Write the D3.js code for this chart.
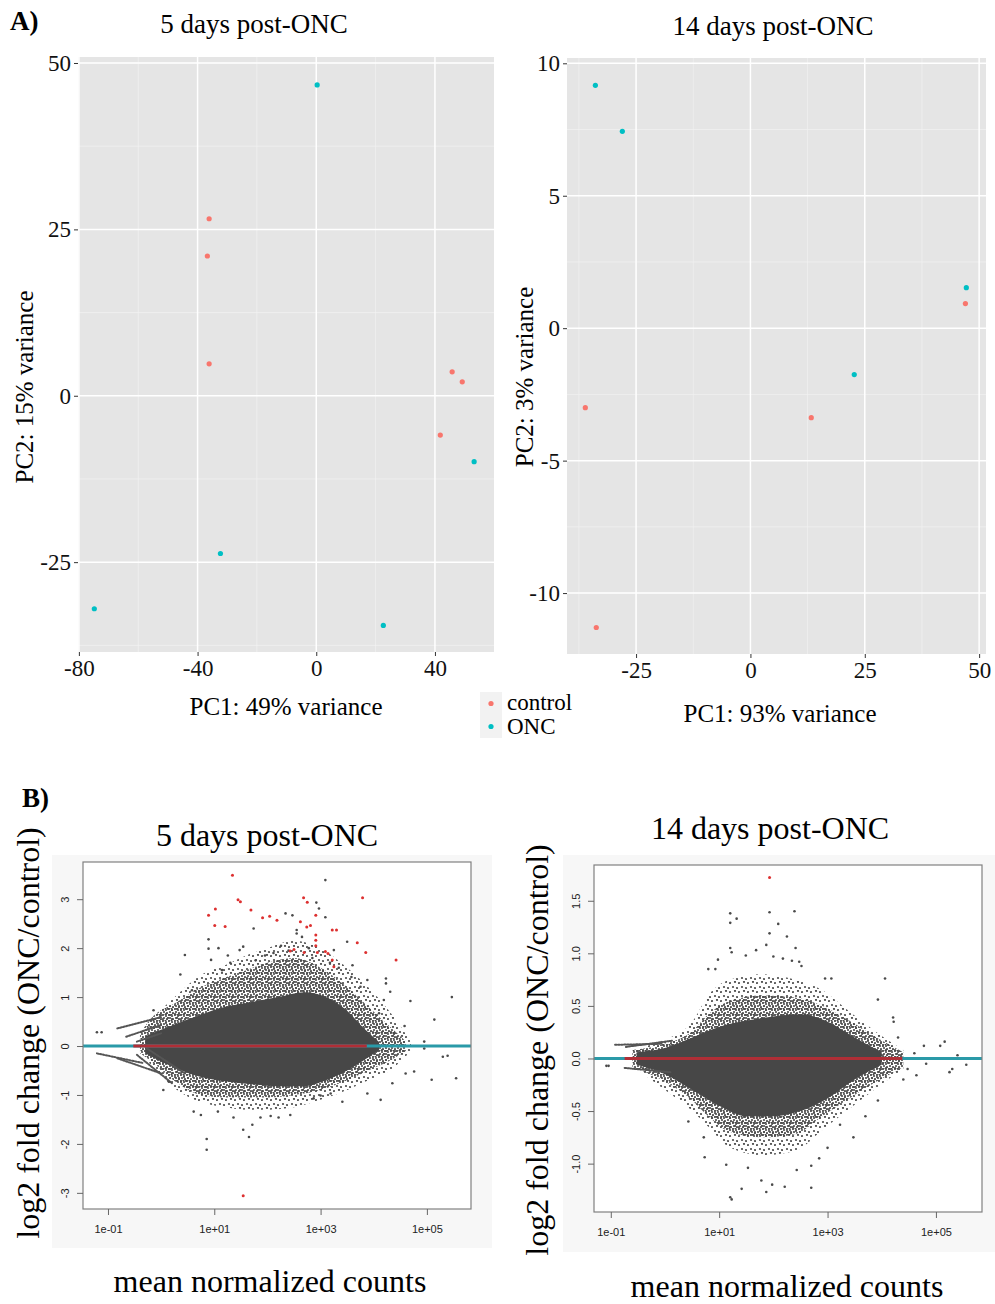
<!DOCTYPE html>
<html>
<head>
<meta charset="utf-8">
<script src="https://cdn.jsdelivr.net/npm/d3@7"></script>
<style>
  body { margin: 0; background: #fff; }
  svg text { font-family: "Liberation Serif", "Times New Roman", serif; }
  .ma-axis text { font-family: "Liberation Sans", Arial, sans-serif; }
</style>
</head>
<body>
<svg id="fig" width="995" height="1304"></svg>
<script>
// ---- A) PCA, values ----
const groups = ["control", "ONC"];
const groupColors = ["#F8766D", "#00BFC4"];

const pca5Control = [[-36.1, 26.6], [-36.7, 21.0], [-36.1, 4.8], [45.8, 3.6], [49.2, 2.1], [41.8, -5.9]];
const pca5Onc = [[0.3, 46.7], [53.2, -9.9], [-32.3, -23.7], [-74.8, -32.0], [22.6, -34.5]];
const pca14Control = [[47.0, 0.93], [-36.1, -3.0], [13.3, -3.38], [-33.7, -11.3]];
const pca14Onc = [[-33.9, 9.17], [-28.0, 7.43], [47.2, 1.53], [22.7, -1.75]];

const pca5XTicks = [-80, -40, 0, 40];
const pca5XMinor = [-60, -20, 20];
const pca5YTicks = [-25, 0, 25, 50];
const pca5YMinor = [-37.5, -12.5, 12.5, 37.5];
const pca14XTicks = [-25, 0, 25, 50];
const pca14XMinor = [-37.5, -12.5, 12.5, 37.5];
const pca14YTicks = [-10, -5, 0, 5, 10];
const pca14YMinor = [-7.5, -2.5, 2.5, 7.5];

// ---- B) MA plots: mean normalized counts vs log2 fold change ----
const maXTicks = [0.1, 10, 1000, 100000];
const maXTickLabels = ["1e-01", "1e+01", "1e+03", "1e+05"];
const ma5YTicks = [-3, -2, -1, 0, 1, 2, 3];
const ma14YTicks = [-1.0, -0.5, 0.0, 0.5, 1.0, 1.5];

// dense part of the cloud (envelopes: solid core, speckled fringe, sparse halo)
const ma5CoreCounts = [0.5, 1.6, 5, 16, 50, 160, 500, 1260, 3160, 6300, 12600];
const ma5CoreUpper = [0.2, 0.42, 0.62, 0.8, 0.9, 1.0, 1.1, 1.0, 0.72, 0.38, 0.08];
const ma5CoreLower = [-0.15, -0.42, -0.62, -0.72, -0.78, -0.82, -0.82, -0.7, -0.5, -0.3, -0.08];
const ma5FringeCounts = [0.4, 0.63, 2, 5.6, 16, 40, 100, 316, 1000, 3160, 7900, 20000, 40000];
const ma5FringeUpper = [0.25, 0.55, 0.9, 1.2, 1.4, 1.55, 1.7, 1.8, 1.6, 1.2, 0.8, 0.4, 0.1];
const ma5FringeLower = [-0.15, -0.3, -0.75, -1.0, -1.05, -1.05, -1.05, -1.0, -0.9, -0.7, -0.5, -0.3, -0.1];
const ma5HaloCounts = [0.6, 2, 5.6, 16, 40, 100, 316, 1000, 3160, 7900, 20000, 50000];
const ma5HaloUpper = [0.5, 1.05, 1.45, 1.65, 1.85, 2.0, 2.15, 2.0, 1.6, 1.2, 0.7, 0.1];
const ma5HaloLower = [-0.35, -0.9, -1.15, -1.25, -1.3, -1.3, -1.25, -1.1, -0.9, -0.7, -0.5, -0.1];

const ma14CoreCounts = [0.3, 1, 3.2, 10, 32, 100, 316, 1000, 3160, 10000];
const ma14CoreUpper = [0.06, 0.1, 0.2, 0.3, 0.36, 0.4, 0.42, 0.35, 0.2, 0.06];
const ma14CoreLower = [-0.06, -0.15, -0.3, -0.45, -0.55, -0.55, -0.5, -0.38, -0.2, -0.06];
const ma14FringeCounts = [0.25, 1, 3.2, 6.3, 16, 63, 250, 800, 2500, 8000, 25000];
const ma14FringeUpper = [0.08, 0.14, 0.26, 0.42, 0.55, 0.6, 0.58, 0.5, 0.36, 0.2, 0.06];
const ma14FringeLower = [-0.08, -0.22, -0.4, -0.55, -0.7, -0.75, -0.72, -0.55, -0.38, -0.22, -0.08];
const ma14HaloCounts = [0.3, 1, 3.2, 6.3, 16, 63, 250, 800, 2500, 8000, 25000];
const ma14HaloUpper = [0.1, 0.18, 0.35, 0.6, 0.75, 0.8, 0.75, 0.65, 0.45, 0.25, 0.08];
const ma14HaloLower = [-0.1, -0.3, -0.5, -0.65, -0.85, -0.92, -0.88, -0.68, -0.48, -0.28, -0.1];

// low-count streaks [count0, lfc0, count1, lfc1]
const ma5Rays = [
  [0.15, 0.36, 1.0, 0.59], [0.22, 0.19, 1.0, 0.43], [0.35, 0.09, 1.0, 0.26],
  [0.062, -0.15, 0.47, -0.35], [0.15, -0.25, 1.0, -0.56], [0.35, -0.18, 1.6, -0.76],
  [0.54, -0.05, 2.8, -0.56]
];
const ma14Rays = [[0.19, 0.11, 1.4, 0.17], [0.12, 0.13, 0.9, 0.14], [0.18, -0.09, 1.26, -0.13]];

// sparse genes outside the dense cloud
const ma5Gray = [
  [2.8, 1.86], [2.3, 1.46], [7.8, 2.18], [7.8, 1.99], [8.7, 1.76], [30, 1.96], [35, 2.03], [55, 2.4],
  [219, 2.71], [295, 2.67], [355, 2.37], [355, 2.3], [447, 2.23], [832, 2.93], [1230, 3.39], [1230, 2.63],
  [933, 2.81], [1778, 1.96], [3162, 2.13], [3981, 1.65], [3802, 1.41], [5623, 1.21], [7586, 1.35],
  [16982, 1.28], [16982, 1.38], [12589, 0.67], [15488, 0.94], [20417, 1.11], [48978, 0.92],
  [138038, 0.54], [295121, 1.0], [38019, 0.41], [23988, 0.26], [89125, 0.09], [0.062, 0.28],
  [0.076, 0.28], [0.72, 0.73], [3.8, 1.14], [14, 1.55], [20, 1.7], [60, 1.75], [90, 1.85],
  [130, 1.9], [180, 2.05], [250, 1.95], [600, 2.0], [700, 1.8], [1500, 1.7], [2200, 1.6], [12, 2.0],
  [18, 1.85],
  [4.1, -1.34], [5.6, -1.41], [11.7, -1.34], [23, -1.46], [7.2, -1.9], [7.2, -2.12], [35, -1.71],
  [45, -1.86], [52, -1.61], [74, -1.46], [115, -1.43], [162, -1.46], [269, -1.41], [2570, -1.14],
  [7586, -0.97], [57544, -0.52], [123027, -0.69], [354813, -0.66], [199526, -0.22], [245471, -0.2],
  [89125, -0.05], [1.1, -0.9], [1.4, -0.73], [741, -1.07], [1000, -1.01], [1549, -0.97],
  [13490, -1.1], [22387, -0.76], [39811, -0.56]
];
const ma5Red = [
  [22, 3.49], [7.8, 2.67], [10.5, 2.8], [10.2, 2.46], [16, 2.44], [28, 2.99], [31, 2.95], [49, 2.78],
  [81, 2.62], [110, 2.65], [151, 2.57], [479, 3.03], [562, 2.94], [813, 2.67], [417, 2.54], [550, 2.43],
  [646, 2.46], [269, 1.94], [316, 1.97], [490, 1.91], [813, 2.27], [813, 2.16], [813, 2.05], [871, 1.91],
  [1230, 1.93], [1380, 1.89], [1660, 2.37], [1995, 2.37], [1660, 1.76], [1778, 1.62], [6166, 3.03],
  [4898, 2.11], [7079, 1.91], [26303, 1.76], [35, -3.06]
];
const ma14Gray = [
  [16, 1.38], [16, 1.29], [21, 1.33], [85, 1.39], [245, 1.40], [123, 1.28], [85, 1.19], [178, 1.16],
  [74, 1.08], [257, 1.05], [16, 1.05], [17, 1.01], [9.5, 0.94], [31, 0.98], [48, 1.03], [100, 0.97],
  [150, 0.95], [220, 0.93], [300, 0.92], [330, 0.88], [6.3, 0.85], [8.5, 0.85], [11500, 0.76],
  [1175, 0.76], [900, 0.76], [8500, 0.56], [16200, 0.39], [16600, 0.35], [145000, 0.16],
  [120000, 0.12], [40000, 0.05], [60000, 0.12], [250000, 0.03], [20000, 0.2],
  [16, -1.32], [17, -1.34], [26, -1.24], [74, -1.27], [95, -1.2], [162, -1.22], [500, -1.23],
  [60, -1.16], [270, -1.06], [500, -1.02], [34, -1.04], [13.5, -1.01], [5.4, -0.94], [5.2, -0.75],
  [2.7, -0.60], [1700, -0.63], [8500, -0.40], [178000, -0.13], [200000, -0.1], [363000, -0.06],
  [66000, -0.05], [43600, -0.16], [30000, -0.1], [0.083, -0.07], [0.091, -0.07], [25000, -0.2],
  [5000, -0.55], [3000, -0.75], [700, -0.95], [1000, -0.85]
];
const ma14Red = [[85, 1.72]];

const svg = d3.select("#fig");
const defs = svg.append("defs");

// speckle textures for the outer parts of the gene clouds
function addSpecklePattern(id, size, dots) {
  const p = defs.append("pattern").attr("id", id)
    .attr("patternUnits", "userSpaceOnUse").attr("width", size).attr("height", size);
  dots.forEach(d => p.append("circle").attr("cx", d[0]).attr("cy", d[1]).attr("r", 1.1).attr("fill", "#4a4a4a"));
}
addSpecklePattern("speckDense", 6, [[1, 1], [4, 2], [2, 4], [5, 5], [3.5, 0.2]]);
addSpecklePattern("speckSparse", 9, [[1, 2], [6, 1], [4, 6], [8, 7]]);

function drawPca(cfg) {
  const x = d3.scaleLinear().domain(cfg.xDomain).range(cfg.xRange);
  const y = d3.scaleLinear().domain(cfg.yDomain).range(cfg.yRange);
  const g = svg.append("g");

  g.append("rect")
    .attr("x", cfg.xRange[0]).attr("y", cfg.yRange[1])
    .attr("width", cfg.xRange[1] - cfg.xRange[0])
    .attr("height", cfg.yRange[0] - cfg.yRange[1])
    .attr("fill", "#e5e5e5");

  cfg.xMinor.forEach(v => g.append("line")
    .attr("x1", x(v)).attr("x2", x(v)).attr("y1", cfg.yRange[1]).attr("y2", cfg.yRange[0])
    .attr("stroke", "#f2f2f2").attr("stroke-width", 0.7));
  cfg.yMinor.forEach(v => g.append("line")
    .attr("y1", y(v)).attr("y2", y(v)).attr("x1", cfg.xRange[0]).attr("x2", cfg.xRange[1])
    .attr("stroke", "#f2f2f2").attr("stroke-width", 0.7));
  cfg.xTicks.forEach(v => g.append("line")
    .attr("x1", x(v)).attr("x2", x(v)).attr("y1", cfg.yRange[1]).attr("y2", cfg.yRange[0])
    .attr("stroke", "#fff").attr("stroke-width", 1.5));
  cfg.yTicks.forEach(v => g.append("line")
    .attr("y1", y(v)).attr("y2", y(v)).attr("x1", cfg.xRange[0]).attr("x2", cfg.xRange[1])
    .attr("stroke", "#fff").attr("stroke-width", 1.5));

  const xAxis = g.append("g")
    .attr("transform", `translate(0,${cfg.yRange[0]})`)
    .call(d3.axisBottom(x).tickValues(cfg.xTicks).tickSize(4).tickPadding(4).tickFormat(d => String(d)));
  const yAxis = g.append("g")
    .attr("transform", `translate(${cfg.xRange[0]},0)`)
    .call(d3.axisLeft(y).tickValues(cfg.yTicks).tickSize(4).tickPadding(3).tickFormat(d => String(d)));
  [xAxis, yAxis].forEach(a => {
    a.select(".domain").remove();
    a.selectAll(".tick line").attr("stroke", "#333");
    a.selectAll("text").attr("font-size", 23).attr("fill", "#111")
      .style("font-family", "'Liberation Serif', serif");
  });

  const series = [cfg.control, cfg.onc];
  series.forEach((pts, i) => {
    g.selectAll(null).data(pts).enter().append("circle")
      .attr("cx", d => x(d[0])).attr("cy", d => y(d[1]))
      .attr("r", 2.6).attr("fill", groupColors[i]);
  });

  g.append("text").attr("x", cfg.titleX).attr("y", cfg.titleY)
    .attr("text-anchor", "middle").attr("font-size", 27).text(cfg.title);
  g.append("text").attr("x", cfg.xLabelX).attr("y", cfg.xLabelY)
    .attr("text-anchor", "middle").attr("font-size", 25).text(cfg.xLabel);
  g.append("text")
    .attr("transform", `translate(${cfg.yLabelX},${cfg.yLabelY}) rotate(-90)`)
    .attr("text-anchor", "middle").attr("font-size", 25).text(cfg.yLabel);
}

function drawMa(cfg, id) {
  const x = d3.scaleLog().domain(cfg.xDomain).range(cfg.xRange);
  const y = d3.scaleLinear().domain(cfg.yDomain).range(cfg.yRange);
  const g = svg.append("g");

  g.append("rect")
    .attr("x", cfg.outer[0]).attr("y", cfg.outer[1])
    .attr("width", cfg.outer[2]).attr("height", cfg.outer[3])
    .attr("fill", "#f7f7f7");
  g.append("rect")
    .attr("x", cfg.xRange[0]).attr("y", cfg.yRange[1])
    .attr("width", cfg.xRange[1] - cfg.xRange[0])
    .attr("height", cfg.yRange[0] - cfg.yRange[1])
    .attr("fill", "#fff");

  g.append("clipPath").attr("id", id).append("rect")
    .attr("x", cfg.xRange[0]).attr("y", cfg.yRange[1])
    .attr("width", cfg.xRange[1] - cfg.xRange[0])
    .attr("height", cfg.yRange[0] - cfg.yRange[1]);
  const plot = g.append("g").attr("clip-path", `url(#${id})`);

  const area = d3.area()
    .x(d => x(d.c)).y0(d => y(d.lo)).y1(d => y(d.hi))
    .curve(d3.curveMonotoneX);
  const band = (counts, lower, upper) => counts.map((c, i) => ({ c, lo: lower[i], hi: upper[i] }));

  plot.append("path").datum(band(cfg.haloCounts, cfg.haloLower, cfg.haloUpper))
    .attr("d", area).attr("fill", "url(#speckSparse)");
  plot.append("path").datum(band(cfg.fringeCounts, cfg.fringeLower, cfg.fringeUpper))
    .attr("d", area).attr("fill", "url(#speckDense)");
  plot.append("path").datum(band(cfg.coreCounts, cfg.coreLower, cfg.coreUpper))
    .attr("d", area).attr("fill", "#474747");

  plot.selectAll(null).data(cfg.rays).enter().append("line")
    .attr("x1", d => x(d[0])).attr("y1", d => y(d[1]))
    .attr("x2", d => x(d[2])).attr("y2", d => y(d[3]))
    .attr("stroke", "#555").attr("stroke-width", 2)
    .attr("stroke-linecap", "round").attr("stroke-dasharray", "1.5 1.5");

  plot.selectAll(null).data(cfg.gray).enter().append("circle")
    .attr("cx", d => x(d[0])).attr("cy", d => y(d[1]))
    .attr("r", 1.3).attr("fill", "#4a4a4a");

  plot.append("line")
    .attr("x1", cfg.xRange[0]).attr("x2", cfg.xRange[1])
    .attr("y1", y(0)).attr("y2", y(0))
    .attr("stroke", "#2a9aa8").attr("stroke-width", 3.2);
  plot.append("line")
    .attr("x1", x(cfg.redLine[0])).attr("x2", x(cfg.redLine[1]))
    .attr("y1", y(0)).attr("y2", y(0))
    .attr("stroke", "#b02e36").attr("stroke-width", 3);

  plot.selectAll(null).data(cfg.red).enter().append("circle")
    .attr("cx", d => x(d[0])).attr("cy", d => y(d[1]))
    .attr("r", 1.5).attr("fill", "#dd3030");

  g.append("rect")
    .attr("x", cfg.xRange[0]).attr("y", cfg.yRange[1])
    .attr("width", cfg.xRange[1] - cfg.xRange[0])
    .attr("height", cfg.yRange[0] - cfg.yRange[1])
    .attr("fill", "none").attr("stroke", "#808080").attr("stroke-width", 1.2);

  const xAxis = g.append("g").attr("class", "ma-axis")
    .attr("transform", `translate(0,${cfg.yRange[0]})`)
    .call(d3.axisBottom(x).tickValues(maXTicks).tickSize(6).tickPadding(10)
      .tickFormat((d, i) => maXTickLabels[i]));
  const yAxis = g.append("g").attr("class", "ma-axis")
    .attr("transform", `translate(${cfg.xRange[0]},0)`)
    .call(d3.axisLeft(y).tickValues(cfg.yTicks).tickSize(6).tickFormat(cfg.yFormat));
  [xAxis, yAxis].forEach(a => {
    a.select(".domain").remove();
    a.selectAll(".tick line").attr("stroke", "#666");
    a.selectAll("text").attr("font-size", 11).attr("fill", "#222");
  });
  yAxis.selectAll("text")
    .attr("x", 0).attr("y", -14).attr("dy", 0)
    .attr("text-anchor", "middle").attr("transform", "rotate(-90)");

  g.append("text").attr("x", cfg.titleX).attr("y", cfg.titleY)
    .attr("text-anchor", "middle").attr("font-size", 32).text(cfg.title);
  g.append("text").attr("x", cfg.xLabelX).attr("y", cfg.xLabelY)
    .attr("text-anchor", "middle").attr("font-size", 32).text("mean normalized counts");
  g.append("text")
    .attr("transform", `translate(${cfg.yLabelX},${cfg.yLabelY}) rotate(-90)`)
    .attr("text-anchor", "middle").attr("font-size", 32).text("log2 fold change (ONC/control)");
}

drawPca({
  control: pca5Control, onc: pca5Onc,
  xDomain: [-80.3, 59.9], xRange: [78, 494], yDomain: [-38.5, 50.9], yRange: [652, 57],
  xTicks: pca5XTicks, xMinor: pca5XMinor, yTicks: pca5YTicks, yMinor: pca5YMinor,
  title: "5 days post-ONC", titleX: 254, titleY: 33,
  xLabel: "PC1: 49% variance", xLabelX: 286, xLabelY: 715,
  yLabel: "PC2: 15% variance", yLabelX: 33, yLabelY: 387
});
drawPca({
  control: pca14Control, onc: pca14Onc,
  xDomain: [-40.1, 51.5], xRange: [567, 986], yDomain: [-12.3, 10.2], yRange: [654, 58],
  xTicks: pca14XTicks, xMinor: pca14XMinor, yTicks: pca14YTicks, yMinor: pca14YMinor,
  title: "14 days post-ONC", titleX: 773, titleY: 35,
  xLabel: "PC1: 93% variance", xLabelX: 780, xLabelY: 722,
  yLabel: "PC2: 3% variance", yLabelX: 533, yLabelY: 377
});

// legend shared by the PCA panels
const legend = svg.append("g").attr("transform", "translate(480,692)");
groups.forEach((name, i) => {
  legend.append("rect").attr("x", 0).attr("y", i * 23).attr("width", 22).attr("height", 23).attr("fill", "#f2f2f2");
  legend.append("circle").attr("cx", 11).attr("cy", i * 23 + 11.5).attr("r", 2.6).attr("fill", groupColors[i]);
  legend.append("text").attr("x", 27).attr("y", i * 24 + 18).attr("font-size", 23).text(name);
});

svg.append("text").attr("x", 10).attr("y", 30).attr("font-size", 27).attr("font-weight", "bold").text("A)");
svg.append("text").attr("x", 22).attr("y", 807).attr("font-size", 27).attr("font-weight", "bold").text("B)");

drawMa({
  xDomain: [0.0339, 676000], xRange: [83, 471], yDomain: [-3.33, 3.76], yRange: [1209, 862],
  outer: [52, 855, 440, 393], yTicks: ma5YTicks, yFormat: d => String(d),
  coreCounts: ma5CoreCounts, coreUpper: ma5CoreUpper, coreLower: ma5CoreLower,
  fringeCounts: ma5FringeCounts, fringeUpper: ma5FringeUpper, fringeLower: ma5FringeLower,
  haloCounts: ma5HaloCounts, haloUpper: ma5HaloUpper, haloLower: ma5HaloLower,
  rays: ma5Rays, gray: ma5Gray, red: ma5Red, redLine: [0.3, 7400],
  title: "5 days post-ONC", titleX: 267, titleY: 846,
  xLabelX: 270, xLabelY: 1292, yLabelX: 39, yLabelY: 1033
}, "clipMa5");
drawMa({
  xDomain: [0.049, 708000], xRange: [594, 982], yDomain: [-1.46, 1.84], yRange: [1212, 865],
  outer: [563, 855, 432, 397], yTicks: ma14YTicks, yFormat: d => d.toFixed(1),
  coreCounts: ma14CoreCounts, coreUpper: ma14CoreUpper, coreLower: ma14CoreLower,
  fringeCounts: ma14FringeCounts, fringeUpper: ma14FringeUpper, fringeLower: ma14FringeLower,
  haloCounts: ma14HaloCounts, haloUpper: ma14HaloUpper, haloLower: ma14HaloLower,
  rays: ma14Rays, gray: ma14Gray, red: ma14Red, redLine: [0.18, 24000],
  title: "14 days post-ONC", titleX: 770, titleY: 839,
  xLabelX: 787, xLabelY: 1297, yLabelX: 548, yLabelY: 1050
}, "clipMa14");
</script>
</body>
</html>
